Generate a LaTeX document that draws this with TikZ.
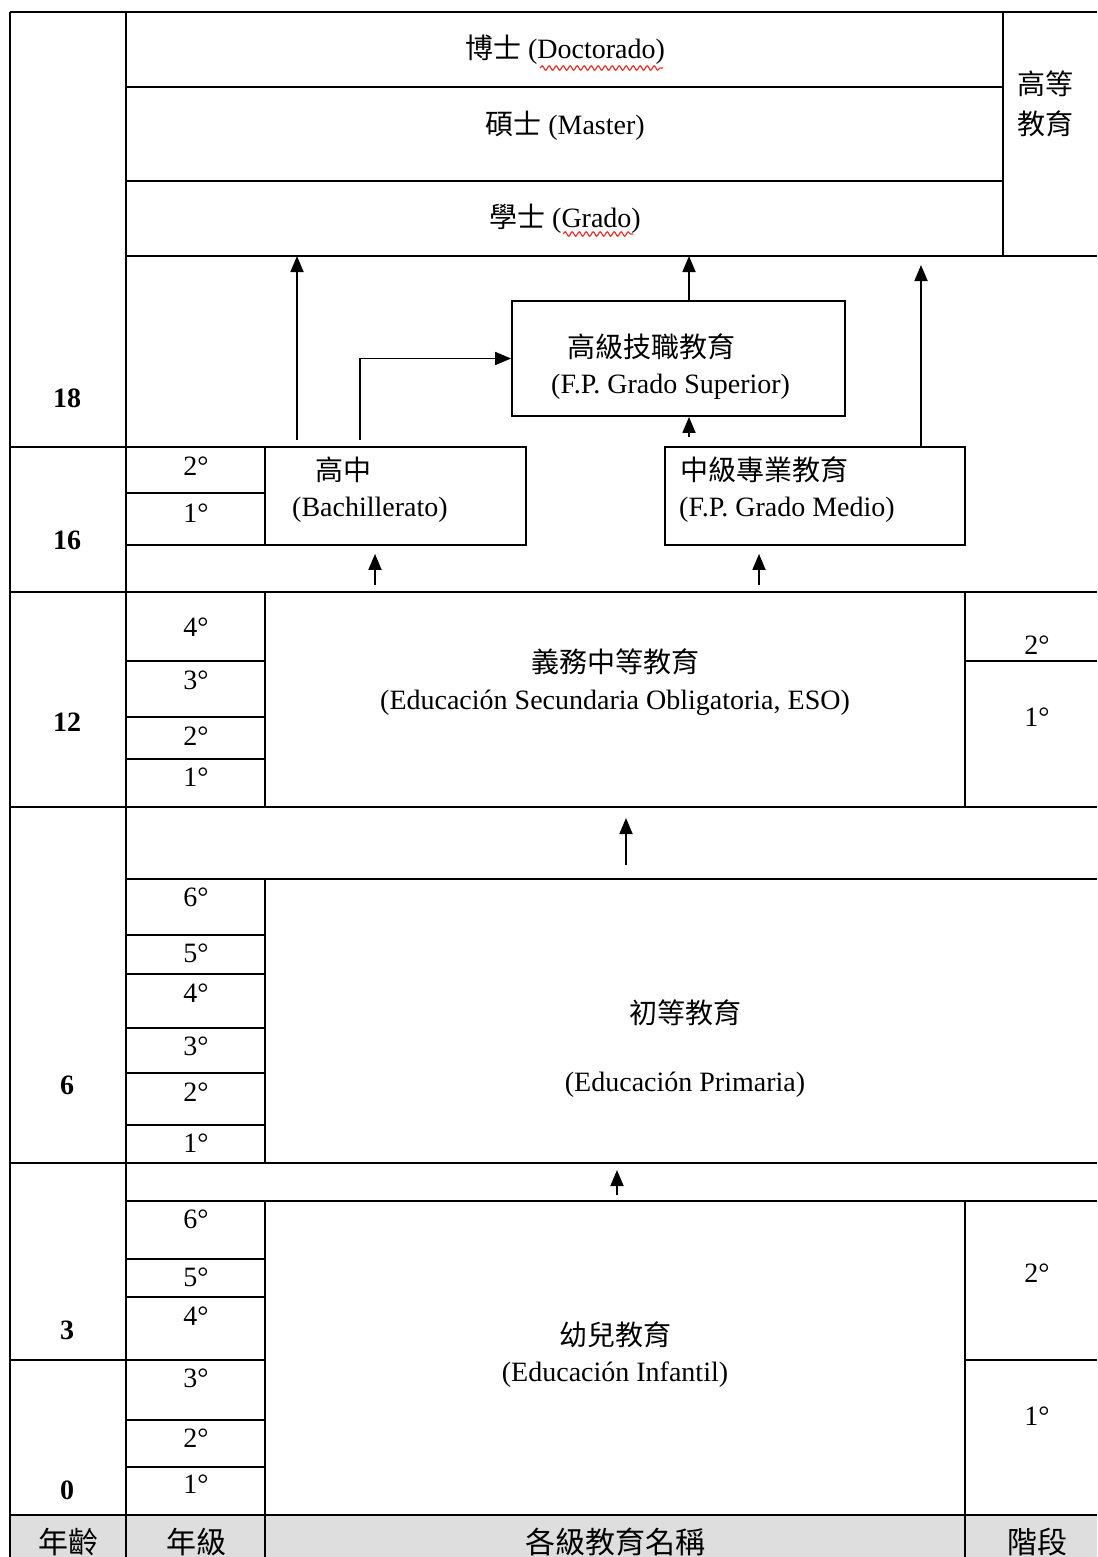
\documentclass[tikz,border=0pt]{standalone}
\usepackage{fontspec}
\setmainfont{Liberation Serif}
\newfontfamily\cjk{Noto Sans CJK TC}
\usetikzlibrary{arrows.meta,decorations.pathmorphing}
\definecolor{hdrgray}{HTML}{DEDEDE}
\definecolor{wavyred}{HTML}{E8322E}
\tikzset{
  txt/.style={font=\fontsize{28}{34}\selectfont, inner sep=0pt},
  agetxt/.style={font=\fontsize{28}{34}\selectfont\bfseries, inner sep=0pt},
  hdrtxt/.style={font=\fontsize{30}{34}\selectfont\cjk, inner sep=0pt},
  grid/.style={line width=1.8pt, black},
  boxline/.style={draw, line width=1.8pt, inner sep=0pt},
  flow/.style={line width=1.8pt, -{Triangle[length=16pt,width=13pt]}},
  wavy/.style={wavyred, line width=1.2pt, decorate, decoration={snake, amplitude=2.2pt, segment length=7pt}}
}
\begin{document}
\begin{tikzpicture}[x=1pt,y=-1pt]
\useasboundingbox (0,0) rectangle (1097,1557);
% header background
\fill[hdrgray] (10,1515) rectangle (1097,1557);
% ---- grid lines ----
\draw[grid] (10,12) -- (1097,12);
\draw[grid] (10,12) -- (10,1557);
\draw[grid] (126,12) -- (126,1557);
\draw[grid] (126,87) -- (1003,87);
\draw[grid] (126,181) -- (1003,181);
\draw[grid] (126,256) -- (1097,256);
\draw[grid] (1003,12) -- (1003,256);
% 16 band
\draw[grid] (10,447) -- (265,447);
\draw[grid] (126,493) -- (265,493);
\draw[grid] (126,545) -- (265,545);
\draw[grid] (10,592) -- (1097,592);
% ESO band
\draw[grid] (265,592) -- (265,807);
\draw[grid] (965,592) -- (965,807);
\draw[grid] (126,661) -- (265,661);
\draw[grid] (126,717) -- (265,717);
\draw[grid] (126,759) -- (265,759);
\draw[grid] (965,661) -- (1097,661);
\draw[grid] (10,807) -- (1097,807);
\draw[grid] (126,879) -- (1097,879);
% Primaria band
\draw[grid] (265,879) -- (265,1163);
\foreach \yy in {935,974,1028,1073,1125} \draw[grid] (126,\yy) -- (265,\yy);
\draw[grid] (10,1163) -- (1097,1163);
\draw[grid] (126,1201) -- (1097,1201);
% Infantil band
\draw[grid] (265,1201) -- (265,1557);
\draw[grid] (965,1201) -- (965,1557);
\foreach \yy in {1259,1297,1420,1467} \draw[grid] (126,\yy) -- (265,\yy);
\draw[grid] (10,1360) -- (265,1360);
\draw[grid] (965,1360) -- (1097,1360);
\draw[grid] (10,1515) -- (1097,1515);

% ---- boxes ----
\node[boxline, minimum width=261pt, minimum height=98pt] (bach) at (395.5,496) {};
\node[boxline, minimum width=300pt, minimum height=98pt] (fpm) at (815,496) {};
\node[boxline, minimum width=333pt, minimum height=115pt] (fps) at (678.5,358.5) {};

% ---- higher education texts ----
\node[txt] (doc) at (565,50) {{\cjk 博士} (Doctorado)};
\node[txt] (mas) at (565,126) {{\cjk 碩士} (Master)};
\node[txt] (gra) at (565,219) {{\cjk 學士} (Grado)};
\draw[wavy] (540,68) -- (663,68);
\draw[wavy] (563,234) -- (633,234);
\node[txt, font=\fontsize{28}{40}\selectfont\cjk, align=left] (sup) at (1045,104) {高等\\教育};

% box texts
\node[txt, anchor=west, font=\fontsize{28}{34}\selectfont\cjk] (fpst1) at (567,347) {高級技職教育};
\node[txt, anchor=west] (fpst2) at (551,387) {(F.P. Grado Superior)};
\node[txt, anchor=west, font=\fontsize{28}{34}\selectfont\cjk] (bacht1) at (315,470) {高中};
\node[txt, anchor=west] (bacht2) at (292,510) {(Bachillerato)};
\node[txt, anchor=west, font=\fontsize{28}{34}\selectfont\cjk] (fpmt1) at (680,470) {中級專業教育};
\node[txt, anchor=west] (fpmt2) at (679,510) {(F.P. Grado Medio)};

% ESO
\node[txt, font=\fontsize{28}{34}\selectfont\cjk] (eso1) at (615,662) {義務中等教育};
\node[txt] (eso2) at (615,703) {(Educación Secundaria Obligatoria, ESO)};
% Primaria
\node[txt, font=\fontsize{28}{34}\selectfont\cjk] (pri1) at (685,1013) {初等教育};
\node[txt] (pri2) at (685,1085) {(Educación Primaria)};
% Infantil
\node[txt, font=\fontsize{28}{34}\selectfont\cjk] (inf1) at (615,1335) {幼兒教育};
\node[txt] (inf2) at (615,1375) {(Educación Infantil)};

% ---- ages ----
\node[agetxt] (a18) at (67,398) {18};
\node[agetxt] (a16) at (67,540) {16};
\node[agetxt] (a12) at (67,722) {12};
\node[agetxt] (a6) at (67,1085) {6};
\node[agetxt] (a3) at (67,1330) {3};
\node[agetxt] (a0) at (67,1490) {0};

% ---- grades ----
\node[txt] (gb2) at (196,466) {2°};
\node[txt] (gb1) at (196,513) {1°};
\node[txt] (ge4) at (196,627) {4°};
\node[txt] (ge3) at (196,680) {3°};
\node[txt] (ge2) at (196,736) {2°};
\node[txt] (ge1) at (196,777) {1°};
\node[txt] (gp6) at (196,897) {6°};
\node[txt] (gp5) at (196,953) {5°};
\node[txt] (gp4) at (196,993) {4°};
\node[txt] (gp3) at (196,1046) {3°};
\node[txt] (gp2) at (196,1092) {2°};
\node[txt] (gp1) at (196,1143) {1°};
\node[txt] (gi6) at (196,1219) {6°};
\node[txt] (gi5) at (196,1277) {5°};
\node[txt] (gi4) at (196,1316) {4°};
\node[txt] (gi3) at (196,1378) {3°};
\node[txt] (gi2) at (196,1438) {2°};
\node[txt] (gi1) at (196,1484) {1°};
% stage column
\node[txt] (se2) at (1037,645) {2°};
\node[txt] (se1) at (1037,717) {1°};
\node[txt] (si2) at (1037,1273) {2°};
\node[txt] (si1) at (1037,1416) {1°};

% ---- header ----
\node[hdrtxt] (h1) at (68,1542) {年齡};
\node[hdrtxt] (h2) at (196,1542) {年級};
\node[hdrtxt] (h3) at (615,1542) {各級教育名稱};
\node[hdrtxt] (h4) at (1037,1542) {階段};

% ---- arrows ----
\coordinate (gtop1) at (297,256);
\coordinate (gtop2) at (689,256);
\coordinate (gtop3) at (921,265);
\coordinate (bs1) at (297,440);
\coordinate (bs2) at (360,440);
\coordinate (fpmtop) at (921,447);
\coordinate (fpmtop2) at (689,437);
\coordinate (esotop1) at (375,585);
\coordinate (esotop2) at (759,585);
\coordinate (pritop) at (626,865);
\coordinate (esobot) at (626,818);
\coordinate (inftop) at (617,1195);
\coordinate (pribot) at (617,1170);

\draw[flow] (bs1) -- (gtop1);
\draw[flow] (bs2) |- (fps.west);
\draw[flow] (fps.north -| gtop2) -- (gtop2);
\draw[flow] (fpmtop2) -- (fps.south -| fpmtop2);
\draw[flow] (fpmtop) -- (gtop3);
\draw[flow] (esotop1) -- ([yshift=-8pt]bach.south -| esotop1);
\draw[flow] (esotop2) -- ([yshift=-8pt]fpm.south -| esotop2);
\draw[flow] (pritop) -- (esobot);
\draw[flow] (inftop) -- (pribot);
\end{tikzpicture}
\end{document}
